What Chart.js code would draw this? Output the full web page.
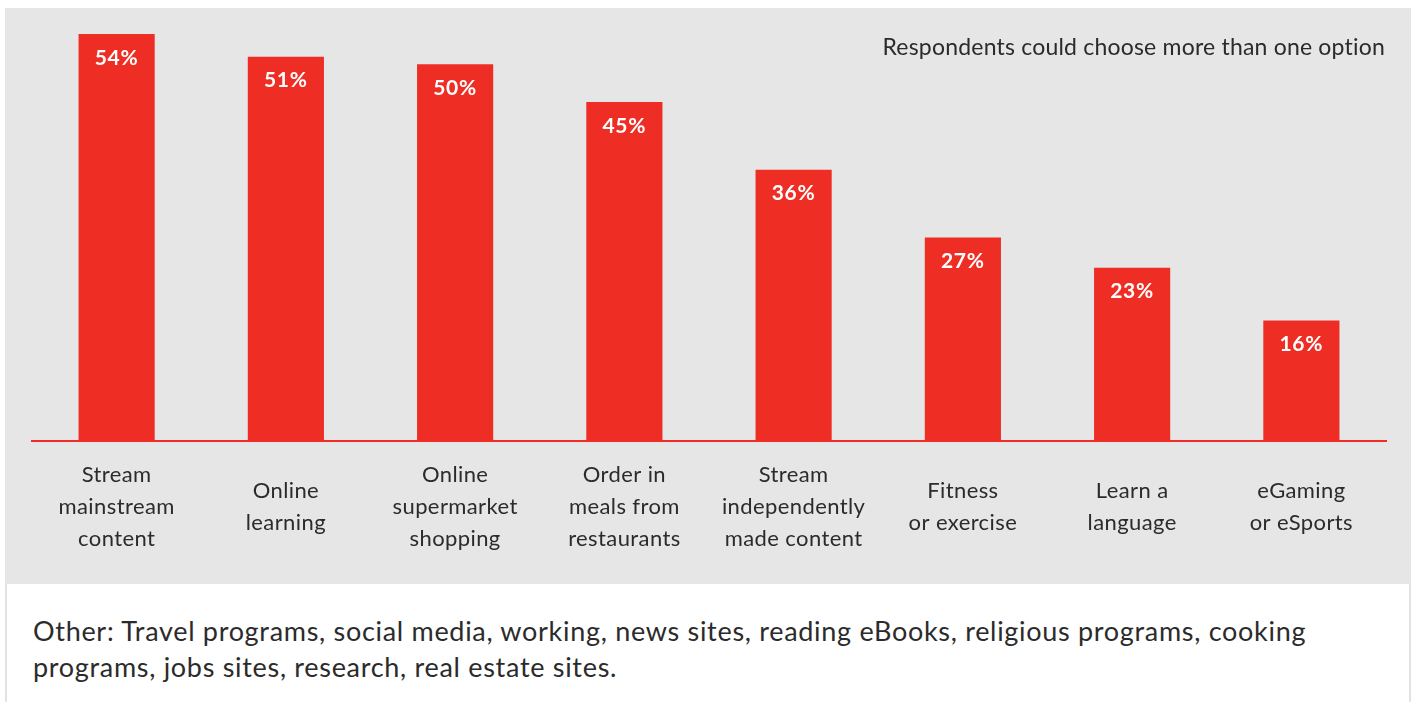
<!DOCTYPE html>
<html>
<head>
<meta charset="utf-8">
<script src="https://cdn.jsdelivr.net/npm/chart.js@4.4.1/dist/chart.umd.min.js"></script>
<style>
  html, body { margin: 0; padding: 0; background: #fff; width: 1416px; height: 702px; overflow: hidden;
    font-family: Lato, "Noto Sans", sans-serif; color: #2b2b2b; }
  #panel { position: absolute; left: 5px; top: 8px; width: 1406px; height: 576px; background: #e6e6e6; }
  #chart { position: absolute; left: 0; top: 0; }
  #note { position: absolute; right: 26px; top: 25px; font-size: 23px; line-height: 26px; letter-spacing: 0.2px; white-space: nowrap; }
  #footer { position: absolute; left: 5px; top: 584px; width: 1402px; height: 118px; background: #fff;
    border-left: 2px solid #e3e3e3; border-right: 2px solid #e3e3e3; }
  #other { position: absolute; left: 26px; top: 29px; font-size: 27px; line-height: 36px; letter-spacing: 0.7px; white-space: nowrap; }
</style>
</head>
<body>
<div id="panel">
  <canvas id="chart" width="1406" height="576"></canvas>
  <div id="note">Respondents could choose more than one option</div>
</div>
<div id="footer">
  <div id="other">Other: Travel programs, social media, working, news sites, reading eBooks, religious programs, cooking<br>programs, jobs sites, research, real estate sites.</div>
</div>
<script>
// Activities (share of respondents, %)
const categories = [
  ['Stream', 'mainstream', 'content'],
  ['Online', 'learning'],
  ['Online', 'supermarket', 'shopping'],
  ['Order in', 'meals from', 'restaurants'],
  ['Stream', 'independently', 'made content'],
  ['Fitness', 'or exercise'],
  ['Learn a', 'language'],
  ['eGaming', 'or eSports']
];
const shares = [54, 51, 50, 45, 36, 27, 23, 16];
const shareLabels = shares.map(v => v + '%');

const RED = '#ee2e24';
const TEXT = '#2b2b2b';

// Slightly wider tracking for all canvas text
const tracking = {
  id: 'tracking',
  beforeDraw(chart) { chart.ctx.letterSpacing = '0.4px'; }
};

// White percentage labels near the top of each bar
const valueLabels = {
  id: 'valueLabels',
  afterDatasetsDraw(chart) {
    const ctx = chart.ctx;
    const meta = chart.getDatasetMeta(0);
    ctx.save();
    ctx.fillStyle = '#fff';
    ctx.font = 'bold 21px Lato, sans-serif';
    ctx.letterSpacing = '0.8px';
    ctx.textAlign = 'center';
    ctx.textBaseline = 'middle';
    meta.data.forEach((bar, i) => {
      ctx.fillText(shareLabels[i], bar.x, bar.y + 24);
    });
    ctx.restore();
  }
};

function draw() {
  new Chart(document.getElementById('chart'), {
    type: 'bar',
    data: {
      labels: categories,
      datasets: [{
        data: shares,
        backgroundColor: RED,
        borderWidth: 0,
        barPercentage: 0.45,
        categoryPercentage: 1
      }]
    },
    options: {
      responsive: false,
      animation: false,
      events: [],
      layout: { padding: { left: 27, right: 25, top: 11, bottom: 0 } },
      plugins: { legend: { display: false }, tooltip: { enabled: false } },
      scales: {
        x: {
          grid: { display: false, drawTicks: false },
          border: { display: true, color: RED, width: 2 },
          ticks: {
            color: TEXT,
            padding: 34,
            crossAlign: 'center',
            maxRotation: 0,
            autoSkip: false,
            font: { family: 'Lato, sans-serif', size: 22, lineHeight: 32 / 22 }
          },
          afterFit(axis) { axis.height = 143; }
        },
        y: {
          display: false,
          min: 0,
          max: 56
        }
      }
    },
    plugins: [tracking, valueLabels]
  });
}

Promise.all([
  document.fonts.load('22px Lato'),
  document.fonts.load('bold 21px Lato')
]).then(draw, draw);
</script>
</body>
</html>
